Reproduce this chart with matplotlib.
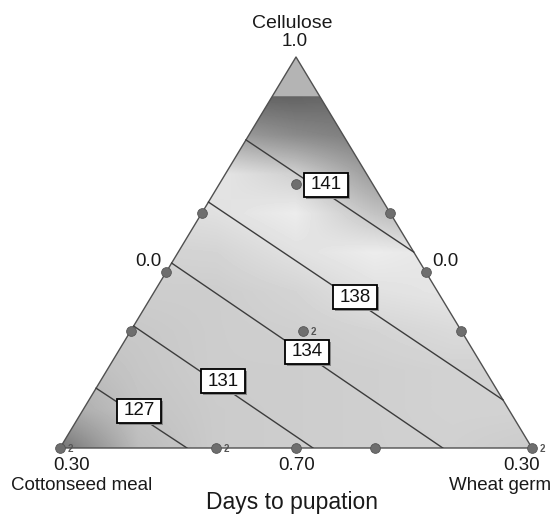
import numpy as np
import matplotlib.pyplot as plt
from matplotlib.patches import Polygon, Rectangle
from matplotlib.transforms import ScaledTranslation

plt.rcParams["font.family"] = ["Liberation Sans", "DejaVu Sans"]

# design points, pseudo-component fractions (cellulose, wheat germ)
pt_cellulose = [0.0, 0.0, 0.0, 0.0, 0.0, 0.30, 0.45, 0.60, 0.30, 0.45, 0.60, 0.675, 0.30]
pt_wheat = [0.0, 0.33, 0.5, 0.667, 1.0, 0.0, 0.0, 0.0, 0.70, 0.55, 0.40, 0.1625, 0.365]
pt_reps = [2, 2, 1, 1, 2, 1, 1, 1, 1, 1, 1, 1, 2]

# contour lines of days to pupation
levels = [127, 131, 134, 138, 141]
start_cellulose = [0.153, 0.312, 0.473, 0.629, 0.788]
start_wheat = [0.0, 0.0, 0.0, 0.0, 0.0]
end_cellulose = [0.0, 0.0, 0.0, 0.123, 0.501]
end_wheat = [0.269, 0.536, 0.811, 0.877, 0.499]
label_cellulose = [0.095, 0.171, 0.246, 0.386, 0.673]
label_wheat = [0.120, 0.260, 0.401, 0.432, 0.227]

cap_level = 0.9

# grey levels of the shaded surface, rows t = 0.0 .. 0.9, cols x = 0 .. 1
shade_rows = [
    [115, 188, 203, 205, 207, 208, 203],
    [168, 195, 203, 205, 207, 210, 210],
    [185, 198, 205, 205, 207, 210, 210],
    [200, 200, 205, 207, 212, 218, 218],
    [205, 205, 205, 212, 225, 230, 230],
    [210, 210, 212, 225, 236, 228, 228],
    [218, 218, 224, 236, 195, 165, 165],
    [224, 224, 230, 208, 155, 140, 140],
    [165, 165, 160, 138, 122, 120, 120],
    [100, 100, 100, 98, 108, 112, 112],
]


def to_xy(c, w):
    c = np.asarray(c, dtype=float)
    w = np.asarray(w, dtype=float)
    return w + c / 2, c


W, H = 554, 523
fig = plt.figure(figsize=(W / 100, H / 100), dpi=100)
ax = fig.add_axes([60 / W, 75 / H, 472 / W, 391 / H])
ax.set_xlim(0, 1)
ax.set_ylim(0, 1)
ax.axis("off")

# shaded surface clipped to the triangle below the cap
shade = np.array(shade_rows, dtype=float)
im = ax.imshow(shade, cmap="gray", vmin=0, vmax=255, origin="lower",
               extent=(-1 / 12, 1 + 1 / 12, -0.05, 0.95),
               interpolation="bilinear", aspect="auto", zorder=1)
body = Polygon([(0, 0), (1, 0), (1 - cap_level / 2, cap_level), (cap_level / 2, cap_level)],
               closed=True, transform=ax.transData, fc="none", ec="none")
ax.add_patch(body)
im.set_clip_path(body)

cap = Polygon([(cap_level / 2, cap_level), (1 - cap_level / 2, cap_level), (0.5, 1)],
              closed=True, fc="#b4b4b4", ec="none", zorder=2)
ax.add_patch(cap)

# triangle outline
ax.plot([0, 1, 0.5, 0], [0, 0, 1, 0], color="#505050", lw=1.0, zorder=3, clip_on=False)

# contour lines
for i in range(len(levels)):
    x0, y0 = to_xy(start_cellulose[i], start_wheat[i])
    x1, y1 = to_xy(end_cellulose[i], end_wheat[i])
    ax.plot([x0, x1], [y0, y1], color="#3c3c3c", lw=1.0, zorder=4)

# contour labels in boxes
for i, lev in enumerate(levels):
    lx, ly = to_xy(label_cellulose[i], label_wheat[i])
    tr = ScaledTranslation(float(lx), float(ly), ax.transData)
    ax.add_patch(Rectangle((-20, -14), 44, 24, transform=tr, fc="#888888", ec="none", zorder=5))
    ax.add_patch(Rectangle((-22, -12), 44, 24, transform=tr, fc="white", ec="black", lw=1.3, zorder=6))
    ax.text(lx, ly, str(lev), ha="center", va="center", fontsize=13.5, color="#111111", zorder=7)

# design points
px, py = to_xy(pt_cellulose, pt_wheat)
ax.plot(px, py, "o", ms=7, mfc="#6e6e6e", mec="#555555", mew=0.6, ls="none", zorder=8, clip_on=False)
for x, y, r in zip(px, py, pt_reps):
    if r > 1:
        ax.annotate(str(r), (x, y), xytext=(7.5, -1), textcoords="offset points",
                    ha="center", va="center", fontsize=7, fontweight="bold",
                    color="#555555", zorder=8)

# axis texts
def ftext(x, y, s, size=13.5):
    fig.text(x / W, 1 - y / H, s, ha="center", va="center", fontsize=size, color="#1a1a1a")

ftext(292, 23, "Cellulose", 14)
ftext(295, 42, "1.0")
ftext(148, 261, "0.0")
ftext(445, 261, "0.0")
ftext(72, 465, "0.30")
ftext(82, 485, "Cottonseed meal")
ftext(297, 465, "0.70")
ftext(522, 465, "0.30")
ftext(500, 485, "Wheat germ")
ftext(292, 503, "Days to pupation", size=16.5)

fig.savefig("out.png", dpi=100)
